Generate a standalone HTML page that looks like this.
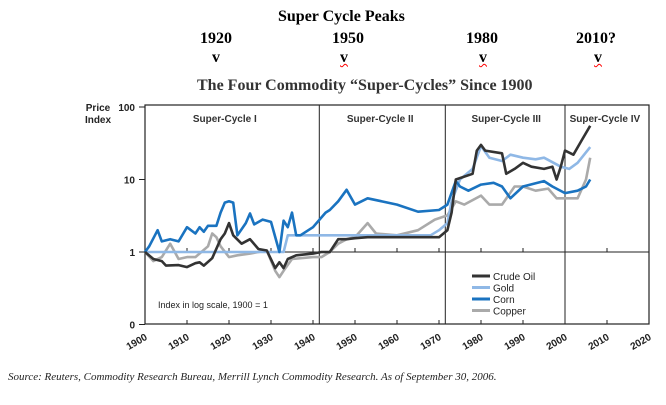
<!DOCTYPE html>
<html><head><meta charset="utf-8"><style>
body{margin:0;width:666px;height:405px;background:#fff;overflow:hidden;position:relative;font-family:"Liberation Serif",serif}
.t{position:absolute;font-weight:bold;white-space:nowrap}
</style></head><body>
<div class="t" style="left:278px;top:8px;font-size:16px">Super Cycle Peaks</div>
<div class="t" style="left:200px;top:30px;font-size:16px">1920</div>
<div class="t" style="left:332px;top:30px;font-size:16px">1950</div>
<div class="t" style="left:466px;top:30px;font-size:16px">1980</div>
<div class="t" style="left:576px;top:30px;font-size:16px">2010?</div>
<div class="t" style="left:212px;top:49px;font-size:16px">v</div>
<div class="t" style="left:340px;top:49px;font-size:16px;text-decoration:underline wavy red 1px">v</div>
<div class="t" style="left:479px;top:49px;font-size:16px;text-decoration:underline wavy red 1px">v</div>
<div class="t" style="left:594px;top:49px;font-size:16px;text-decoration:underline wavy red 1px">v</div>
<div class="t" style="left:197px;top:77px;font-size:16px;color:#333">The Four Commodity “Super-Cycles” Since 1900</div>
<div style="position:absolute;left:8px;top:371px;font-size:11px;font-style:italic;color:#222;white-space:nowrap">Source: Reuters, Commodity Research Bureau, Merrill Lynch Commodity Research. As of September 30, 2006.</div>
<svg id="c" width="666" height="405" style="position:absolute;left:0;top:0" font-family="Liberation Sans, sans-serif"></svg>
<script>
const oilYears=[1900,1902,1904,1905,1908,1910,1912,1913,1914,1916,1918,1919,1920,1921,1923,1925,1927,1929,1931,1932,1933,1934,1936,1940,1942,1944,1946,1948,1950,1953,1970,1972,1973,1974,1978,1979,1980,1981,1985,1986,1988,1990,1992,1995,1997,1998,1999,2000,2002,2004,2006];
const oilVals=[1,0.8,0.75,0.65,0.66,0.62,0.7,0.72,0.65,0.82,1.5,1.8,2.5,1.7,1.3,1.5,1.1,1.05,0.6,0.72,0.6,0.8,0.9,0.95,1.0,1.0,1.5,1.5,1.55,1.6,1.6,2,3.5,10,12,25,30,25,23,12,14,17,15,14,15,10,15,25,22,35,55];
const goldYears=[1900,1933,1934,1968,1970,1972,1973,1975,1978,1980,1982,1985,1987,1990,1993,1995,1999,2001,2003,2006];
const goldVals=[1,1,1.7,1.7,2.0,2.5,5,10,14,29,20,18,22,20,19,20,15,14,17,28];
const cornYears=[1900,1901,1903,1904,1906,1908,1910,1912,1913,1914,1915,1917,1918,1919,1920,1921,1922,1924,1925,1926,1928,1930,1932,1933,1934,1935,1936,1937,1940,1943,1944,1946,1948,1950,1953,1960,1965,1970,1972,1974,1975,1977,1980,1983,1985,1987,1990,1995,1997,2000,2003,2005,2006];
const cornVals=[1,1.2,2.0,1.4,1.5,1.4,2.2,1.8,2.2,1.9,2.3,2.3,3.5,4.8,5.0,4.8,1.7,2.5,3.4,2.4,2.8,2.6,1.0,2.7,2.2,3.5,1.7,1.7,2.2,3.5,3.8,5.0,7.2,4.5,5.5,4.5,3.6,3.8,4.5,9.5,8,7,8.5,9,8,5.5,8,9.5,8,6.5,7,8,10];
const copperYears=[1900,1902,1904,1906,1908,1910,1912,1915,1916,1917,1918,1920,1922,1925,1929,1931,1932,1933,1935,1940,1942,1944,1946,1948,1950,1953,1955,1960,1965,1969,1972,1973,1974,1976,1980,1982,1985,1988,1990,1993,1996,1998,2000,2003,2005,2006];
const copperVals=[1,0.75,0.85,1.3,0.8,0.85,0.85,1.2,1.8,1.6,1.2,0.85,0.9,0.95,1.05,0.55,0.45,0.55,0.8,0.85,0.85,1.0,1.3,1.5,1.6,2.5,1.8,1.7,2.0,2.8,3.2,4,5,4.5,6,4.5,4.5,8,8,7,7.5,5.5,5.5,5.5,10,20];
const xTicks=[1900,1910,1920,1930,1940,1950,1960,1970,1980,1990,2000,2010,2020];
const yTicks=[0.1,1,10,100];
const yTickLabels=["0","1","10","100"];
const dividers=[1941.5,1971.5,2000];
const cycleNames=["Super-Cycle I","Super-Cycle II","Super-Cycle III","Super-Cycle IV"];
const cycleCenters=[1919,1956,1986,2009.5];

const L=145,R=649,T=105,B=324;
const X=y=>L+(y-1900)*(R-L)/120;
const Y=v=>252-Math.log10(v)*72.5;
const svg=document.getElementById('c');const NS='http://www.w3.org/2000/svg';
function mk(tag,at,parent){const e=document.createElementNS(NS,tag);for(const k in at)e.setAttribute(k,at[k]);(parent||svg).appendChild(e);return e;}
let e=mk('rect',{x:L,y:T,width:R-L,height:B-T,fill:'none',stroke:'#222','stroke-width':1.2});


e=mk('line',{x1:L,x2:R,y1:Y(1),y2:Y(1),stroke:'#222','stroke-width':1});


dividers.forEach(d=>{const l=mk('line',{x1:X(d),x2:X(d),y1:T,y2:B,stroke:'#222','stroke-width':1});

});
cycleNames.forEach((n,i)=>{const t=mk('text',{x:X(cycleCenters[i]),y:T+17,'text-anchor':'middle','font-size':10,'font-weight':'bold',fill:'#333'});t.textContent=n;

});
xTicks.forEach(y=>{const x=X(y);mk('line',{x1:x,x2:x,y1:Y(1),y2:Y(1)-4,stroke:'#222'});mk('line',{x1:x,x2:x,y1:B,y2:B-4,stroke:'#222'});
const t=mk('text',{x:x+3,y:B+15,'text-anchor':'end','font-size':10,'font-weight':'bold',fill:'#222',transform:`rotate(-30 ${x+3} ${B+15})`});t.textContent=y;

});
yTicks.forEach((v,i)=>{const y=Y(v);mk('line',{x1:L-6,x2:L,y1:y,y2:y,stroke:'#222'});
const t=mk('text',{x:L-10,y:y+4,'text-anchor':'end','font-size':10,'font-weight':'bold',fill:'#222'});t.textContent=yTickLabels[i];

});
[['Price',111],['Index',123]].forEach(([s,yy])=>{const t=mk('text',{x:98,y:yy,'text-anchor':'middle','font-size':10,'font-weight':'bold',fill:'#222'});t.textContent=s;

});
e=mk('text',{x:158,y:308,'font-size':9,fill:'#222'});e.textContent='Index in log scale, 1900 = 1';


const series=[['copper',copperYears,copperVals,'#aaaaaa'],['gold',goldYears,goldVals,'#8fb8e6'],['corn',cornYears,cornVals,'#1a73c0'],['crude-oil',oilYears,oilVals,'#333333']];
series.forEach(([n,ys,vs,c])=>{const p=mk('path',{d:ys.map((y,i)=>(i?'L':'M')+X(y).toFixed(1)+','+Y(vs[i]).toFixed(1)).join(''),fill:'none',stroke:c,'stroke-width':2.6,'stroke-linejoin':'round'});

});
[['Crude Oil','#333333'],['Gold','#8fb8e6'],['Corn','#1a73c0'],['Copper','#aaaaaa']].forEach(([n,c],i)=>{const y=276+i*11.5;
mk('line',{x1:472,x2:490,y1:y,y2:y,stroke:c,'stroke-width':3});
const t=mk('text',{x:493,y:y+4,'font-size':10,fill:'#222'});t.textContent=n;

});
</script>
</body></html>
